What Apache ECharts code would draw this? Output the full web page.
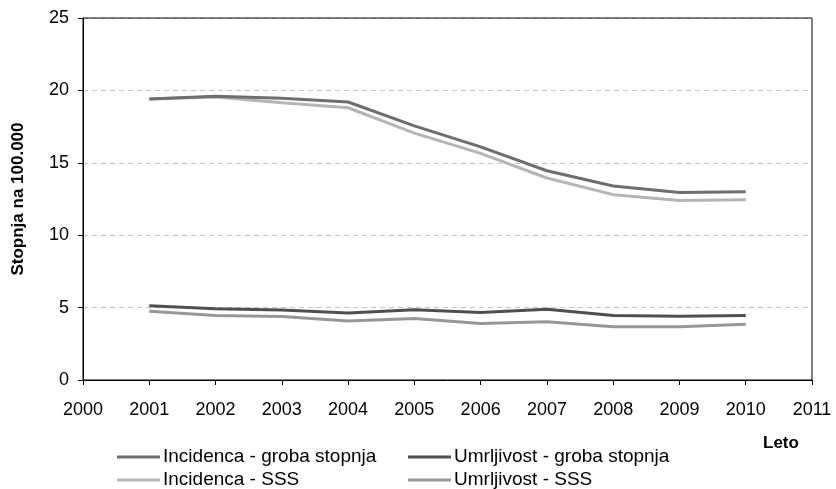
<!DOCTYPE html>
<html>
<head>
<meta charset="utf-8">
<script src="https://cdn.jsdelivr.net/npm/echarts@6/dist/echarts.min.js"></script>
<style>
html,body{margin:0;padding:0;background:#fff;}
#chart{width:836px;height:489px;}
</style>
</head>
<body>
<div id="chart"></div>
<script>
var years = [2001, 2002, 2003, 2004, 2005, 2006, 2007, 2008, 2009, 2010];
var incidencaGroba = [19.4, 19.6, 19.45, 19.2, 17.55, 16.1, 14.45, 13.4, 12.95, 13.0];
var incidencaSSS   = [19.4, 19.55, 19.15, 18.8, 17.05, 15.65, 13.95, 12.8, 12.4, 12.45];
var umrljivostGroba = [5.12, 4.92, 4.83, 4.62, 4.85, 4.66, 4.88, 4.45, 4.4, 4.45];
var umrljivostSSS   = [4.75, 4.45, 4.38, 4.08, 4.25, 3.9, 4.02, 3.68, 3.68, 3.85];
var xTicks = {min: 2000, max: 2011, step: 1};
var yTicks = {min: 0, max: 25, step: 5};
var names = ['Incidenca - groba stopnja', 'Umrljivost - groba stopnja', 'Incidenca - SSS', 'Umrljivost - SSS'];
var colors = ['#6e6e6e', '#4f4f4f', '#b5b5b5', '#979797'];

function pairs(vals){ return years.map(function(y,i){ return [y, vals[i]]; }); }

var font = 'Liberation Sans, Arial, sans-serif';
var chart = echarts.init(document.getElementById('chart'), null, {renderer:'canvas'});
var seriesData = [incidencaGroba, umrljivostGroba, incidencaSSS, umrljivostSSS];
var legendPos = [[117, 447], [408, 447], [117, 470], [408, 470]];
var legends = names.map(function(n, i){
  return {
    left: legendPos[i][0], top: legendPos[i][1], padding: 0, itemWidth: 43, itemHeight: 3, icon: 'rect',
    data: [n], textStyle: {color: '#000', fontSize: 19, fontFamily: font, lineHeight: 20, padding: [0,0,0,-2]}
  };
});
var option = {
  backgroundColor: '#fff',
  animation: false,
  textStyle: {fontFamily: font},
  grid: {left: 83, right: 24, top: 18, bottom: 109, show: true, borderColor: '#000', borderWidth: 1, containLabel: false, z: 3},
  xAxis: {
    type: 'value', min: xTicks.min, max: xTicks.max, interval: xTicks.step,
    axisLine: {lineStyle: {color: '#000', width: 1}},
    axisTick: {show: true, length: 5, lineStyle: {color: '#000'}},
    axisLabel: {color: '#000', fontSize: 18, fontFamily: font, margin: 21, formatter: function(v){ return String(v); }},
    splitLine: {show: false}
  },
  yAxis: {
    type: 'value', min: yTicks.min, max: yTicks.max, interval: yTicks.step,
    name: 'Stopnja na 100.000', nameLocation: 'middle', nameGap: 56,
    nameTextStyle: {color: '#000', fontSize: 17, fontWeight: 'bold', fontFamily: font},
    axisLine: {show: true, lineStyle: {color: '#000', width: 1}},
    axisTick: {show: true, length: 5, lineStyle: {color: '#000'}},
    axisLabel: {color: '#000', fontSize: 18, fontFamily: font, margin: 14},
    splitLine: {show: true, lineStyle: {color: '#c4c4c4', type: [5, 4], width: 1}}
  },
  legend: legends,
  graphic: [
    {type: 'text', left: 763, top: 435, style: {text: 'Leto', font: 'bold 17px ' + font, fill: '#000'}}
  ],
  series: seriesData.map(function(d, i){
    return {
      name: names[i], type: 'line', data: pairs(d), showSymbol: false, symbol: 'none',
      color: colors[i], lineStyle: {color: colors[i], width: 3}, z: 2 + (i === 0 || i === 1 ? 1 : 0)
    };
  })
};
chart.setOption(option);
</script>
</body>
</html>
